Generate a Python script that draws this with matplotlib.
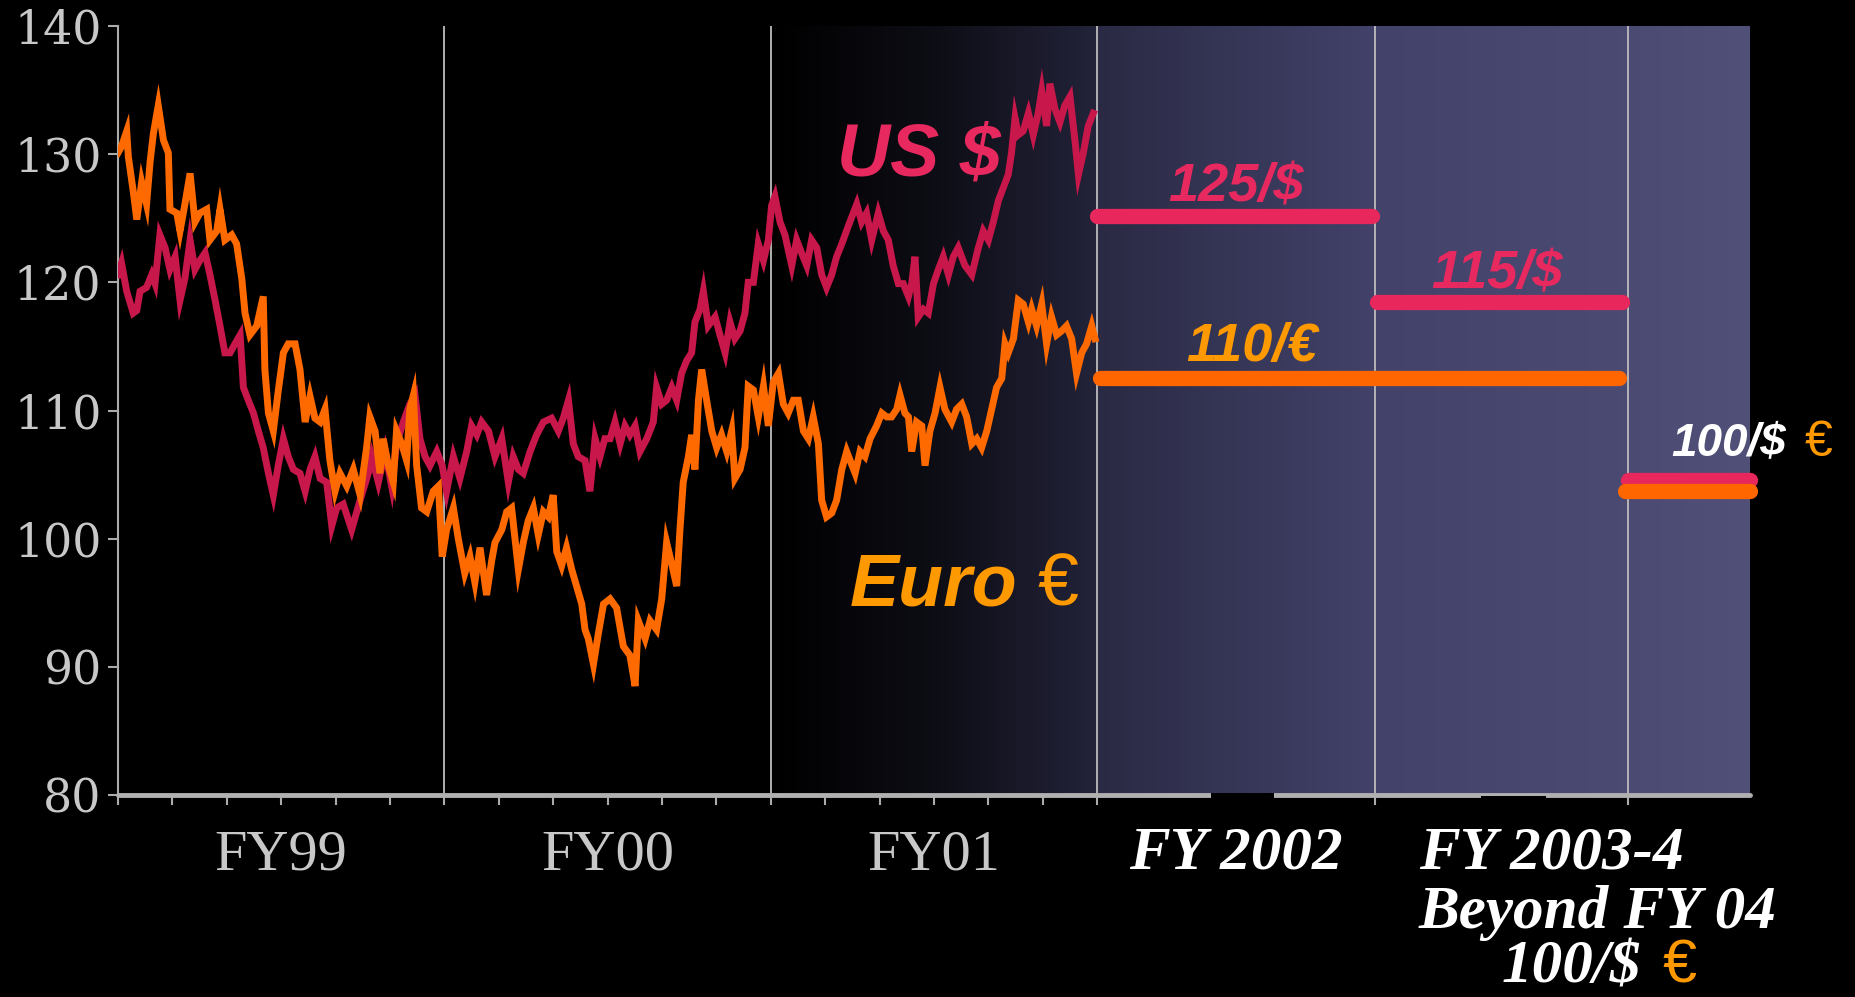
import numpy as np
import matplotlib.pyplot as plt
from matplotlib.colors import LinearSegmentedColormap
from matplotlib.patches import Rectangle

# ============================================================
#  Yen exchange rate vs US $ and Euro, FY99-FY01 history
#  plus planning rates for FY2002 and beyond.
#  x = months from start of FY99, y = yen per unit
# ============================================================

# -----------------------------
#  Data
# -----------------------------
usd_points = [
    (0.0, 120.6), (0.13, 121.5), (0.32, 119.3), (0.56, 117.6), (0.69, 117.8),
    (0.81, 119.3), (1.05, 119.6), (1.24, 120.6), (1.36, 119.9), (1.54, 123.7),
    (1.73, 122.7), (1.91, 121.0), (2.10, 122.0), (2.28, 118.6), (2.46, 120.3),
    (2.65, 123.3), (2.83, 121.0), (3.01, 121.7), (3.20, 122.3), (3.38, 120.6),
    (3.57, 118.6), (3.75, 116.6), (3.93, 114.5), (4.12, 114.5), (4.30, 115.2),
    (4.49, 115.9), (4.61, 111.8), (4.79, 110.8), (4.98, 109.8), (5.16, 108.4),
    (5.34, 107.1), (5.53, 105.1), (5.71, 103.4), (5.89, 105.7), (6.08, 107.8),
    (6.26, 106.4), (6.45, 105.4), (6.69, 105.1), (6.88, 103.7), (7.06, 105.4),
    (7.24, 106.4), (7.43, 104.7), (7.67, 104.4), (7.86, 101.0), (8.04, 102.4),
    (8.28, 102.7), (8.59, 100.7), (8.90, 103.0),
    (9.20, 105.1), (9.33, 106.4), (9.57, 104.4), (9.82, 106.8), (10.06, 104.1),
    (10.24, 107.4), (10.49, 109.1), (10.73, 110.5), (10.92, 111.2), (11.10, 107.8),
    (11.29, 106.4), (11.47, 105.7), (11.72, 106.8), (11.92, 105.7), (12.08, 103.7),
    (12.33, 106.4), (12.57, 104.7), (12.82, 106.8), (13.00, 108.8), (13.19, 108.1),
    (13.37, 109.1), (13.62, 108.4), (13.86, 106.4), (14.11, 107.8), (14.35, 104.4),
    (14.53, 106.4), (14.72, 105.4), (14.90, 105.1), (15.15, 106.8), (15.39, 108.1),
    (15.64, 109.1), (15.94, 109.4), (16.19, 108.4), (16.37, 109.4), (16.56, 110.8),
    (16.74, 107.4), (16.92, 106.4), (17.17, 106.1), (17.35, 103.7), (17.54, 107.8),
    (17.72, 106.4), (17.90, 107.8),
    (18.09, 107.8), (18.27, 109.1), (18.46, 107.4), (18.64, 108.8), (18.82, 108.1),
    (19.01, 108.8), (19.19, 106.8), (19.44, 107.8), (19.68, 109.1), (19.80, 111.8),
    (19.99, 110.5), (20.17, 110.8), (20.36, 111.8), (20.54, 110.8), (20.72, 112.9),
    (20.91, 113.9), (21.09, 114.5), (21.21, 116.9), (21.40, 117.9), (21.52, 119.3),
    (21.70, 116.6), (21.95, 117.3), (22.13, 115.9), (22.32, 114.5), (22.50, 116.9),
    (22.68, 115.6), (22.87, 116.2), (23.05, 117.6), (23.17, 120.0), (23.36, 120.0),
    (23.54, 123.0), (23.73, 121.7), (23.91, 123.3), (24.03, 126.0), (24.15, 126.7),
    (24.34, 124.7), (24.52, 123.7), (24.77, 121.3), (24.95, 123.3), (25.13, 122.3),
    (25.32, 121.3), (25.50, 123.3), (25.69, 122.7), (25.87, 120.6), (26.05, 119.6),
    (26.24, 120.6), (26.42, 122.0), (26.61, 123.0), (26.85, 124.4),
    (27.16, 126.1), (27.34, 124.7), (27.52, 125.4), (27.71, 123.3), (27.95, 125.4),
    (28.14, 124.0), (28.32, 123.3), (28.50, 121.3), (28.69, 119.9), (28.87, 119.9),
    (29.06, 118.9), (29.18, 119.9), (29.30, 122.0), (29.42, 117.3), (29.61, 117.9),
    (29.79, 117.6), (29.98, 119.9), (30.16, 121.0), (30.34, 122.0), (30.53, 120.6),
    (30.71, 122.0), (30.89, 122.7), (31.14, 121.3), (31.39, 120.6), (31.63, 122.7),
    (31.81, 124.0), (32.00, 123.3), (32.18, 124.7), (32.37, 126.4), (32.55, 127.4),
    (32.73, 128.4), (32.85, 130.1), (32.98, 132.8), (33.10, 131.5), (33.28, 131.8),
    (33.47, 133.2), (33.65, 131.5), (33.83, 133.2), (33.96, 134.9), (34.14, 132.2),
    (34.26, 135.5), (34.45, 133.5), (34.63, 132.5), (34.81, 133.8), (35.00, 134.5),
    (35.18, 131.1), (35.31, 128.4), (35.49, 130.1), (35.67, 132.2), (35.86, 133.2),
]

eur_points = [
    (0.0, 130.1), (0.13, 130.6), (0.32, 131.8), (0.38, 129.8), (0.56, 127.1),
    (0.69, 124.9), (0.87, 127.8), (1.05, 126.1), (1.18, 129.4), (1.30, 131.6),
    (1.48, 133.8), (1.67, 131.1), (1.85, 130.1), (1.91, 125.7), (2.16, 125.4),
    (2.28, 124.0), (2.46, 126.1), (2.65, 128.5), (2.83, 124.7), (3.01, 125.4),
    (3.26, 125.7), (3.38, 123.3), (3.63, 124.0), (3.75, 125.7), (3.93, 123.3),
    (4.18, 123.7), (4.36, 123.0), (4.55, 120.3), (4.67, 117.6), (4.85, 115.9),
    (5.10, 116.6), (5.34, 118.9), (5.40, 113.2), (5.53, 109.8), (5.71, 108.4),
    (5.89, 111.5), (6.08, 114.5), (6.26, 115.2), (6.51, 115.2), (6.69, 113.2),
    (6.88, 109.1), (7.06, 111.1), (7.24, 109.4), (7.43, 109.1), (7.61, 110.1),
    (7.79, 106.1), (7.98, 103.7), (8.16, 105.1), (8.41, 104.1), (8.65, 105.4),
    (8.90, 103.4),
    (9.14, 107.1), (9.26, 109.5), (9.45, 108.4), (9.63, 105.1), (9.75, 107.8),
    (9.94, 105.7), (10.12, 104.4), (10.24, 108.4), (10.43, 107.4), (10.61, 106.1),
    (10.73, 110.1), (10.86, 111.2), (10.98, 105.7), (11.16, 102.4), (11.35, 102.1),
    (11.59, 103.7), (11.78, 104.1), (11.92, 98.6), (12.08, 100.7), (12.33, 102.4),
    (12.51, 100.0), (12.75, 97.3), (12.94, 98.6), (13.12, 96.6), (13.31, 99.3),
    (13.55, 95.6), (13.74, 98.3), (13.86, 99.7), (14.11, 100.7), (14.29, 102.1),
    (14.47, 102.4), (14.72, 97.6), (14.90, 99.7), (15.08, 101.4), (15.27, 102.4),
    (15.45, 100.3), (15.64, 102.1), (15.82, 101.7), (16.00, 103.4), (16.13, 99.0),
    (16.31, 97.9), (16.49, 99.3), (16.68, 97.6), (16.86, 96.3), (17.05, 94.9),
    (17.17, 92.9), (17.29, 92.2), (17.48, 90.2), (17.66, 92.6), (17.85, 94.9),
    (18.09, 95.3), (18.33, 94.6), (18.58, 91.6), (18.82, 90.9), (19.01, 88.5),
    (19.13, 93.6), (19.38, 92.2), (19.56, 93.6), (19.80, 92.9), (19.99, 95.3),
    (20.17, 99.7), (20.36, 98.0), (20.54, 96.3), (20.66, 100.7), (20.78, 104.4),
    (20.97, 106.4), (21.09, 108.1), (21.21, 105.4), (21.34, 110.8), (21.46, 113.2),
    (21.64, 110.8), (21.83, 108.4), (22.01, 107.1), (22.19, 108.1), (22.38, 106.8),
    (22.56, 108.4), (22.68, 104.7), (22.87, 105.4), (23.05, 107.1), (23.17, 111.9),
    (23.36, 111.6), (23.54, 109.5), (23.73, 111.9), (23.91, 108.8), (24.09, 112.2),
    (24.28, 112.9), (24.46, 110.5), (24.64, 109.8), (24.83, 110.8), (25.01, 110.8),
    (25.20, 108.4), (25.38, 107.8), (25.56, 109.5), (25.75, 107.4), (25.87, 103.0),
    (26.05, 101.7), (26.24, 102.0), (26.42, 103.0), (26.61, 105.4), (26.79, 106.8),
    (27.10, 105.1), (27.28, 106.8), (27.46, 106.4), (27.65, 107.8), (27.89, 108.8),
    (28.08, 109.8), (28.26, 109.5), (28.44, 109.5), (28.63, 110.1), (28.75, 111.2),
    (28.93, 109.8), (29.06, 109.5), (29.18, 106.8), (29.36, 109.1), (29.55, 108.8),
    (29.67, 105.7), (29.85, 108.4), (30.04, 109.8), (30.22, 111.8), (30.40, 110.1),
    (30.65, 109.1), (30.83, 110.1), (31.02, 110.5), (31.20, 109.5), (31.39, 107.4),
    (31.57, 107.8), (31.75, 107.1), (31.94, 108.4), (32.12, 110.1), (32.30, 111.8),
    (32.49, 112.5), (32.61, 115.2), (32.73, 114.5), (32.92, 115.6), (33.10, 118.6),
    (33.28, 118.3), (33.47, 116.9), (33.59, 117.9), (33.77, 116.6), (33.96, 118.3),
    (34.14, 115.2), (34.32, 117.3), (34.51, 115.9), (34.69, 116.2), (34.87, 116.6),
    (35.06, 115.6), (35.24, 112.9), (35.43, 114.5), (35.61, 115.2), (35.80, 116.6),
    (35.92, 115.6),
]

# planning rates (start, end, level)
usd_plan_start = [36.0, 46.3, 55.5]
usd_plan_end = [46.1, 55.3, 60.0]
usd_plan_level = [125.2, 118.5, 104.6]
eur_plan_start = [36.1, 55.4]
eur_plan_end = [55.2, 60.0]
eur_plan_level = [112.5, 103.7]

period_edges = [12, 24, 36, 46.2, 55.5]
fy_labels = ["FY99", "FY00", "FY01"]
fy_label_pos = [6, 18, 30]
y_ticks = [80, 90, 100, 110, 120, 130, 140]

# -----------------------------
#  Style
# -----------------------------
USD_LINE = "#c8174a"
EUR_LINE = "#ff6a00"
USD_PLAN = "#e8285c"
EUR_PLAN = "#ff6600"
USD_TEXT = "#e8295f"
EUR_TEXT = "#ff9900"
AXIS_GREY = "#ababab"
LABEL_GREY = "#c8c8c8"

SANS = "Liberation Sans"
SERIF = "Liberation Serif"

fig = plt.figure(figsize=(18.56, 9.97), dpi=100, facecolor="black")
ax = fig.add_axes([118 / 1856, 202 / 997, 1632 / 1856, 769 / 997])
ax.set_facecolor("black")

# shaded "recent / future" background
ramp = np.linspace(0, 1, 256).reshape(1, -1)
cm_recent = LinearSegmentedColormap.from_list(
    "recent", ["#000000", "#0d0d15", "#23233a"])
cm_future = LinearSegmentedColormap.from_list(
    "future", [(0, "#2a2a44"), (0.425, "#42426a"), (0.8, "#4a4a72"), (1, "#505078")])
ax.imshow(ramp, cmap=cm_recent, extent=[24, 36, 80, 140], aspect="auto", zorder=0)
ax.imshow(ramp, cmap=cm_future, extent=[36, 60, 80, 140], aspect="auto", zorder=0)

ax.set_xlim(0, 60)
ax.set_ylim(80, 140)

for edge in period_edges:
    ax.axvline(edge, color="#bdbdbd", lw=1.3, zorder=1)

# history
ux, uy = zip(*usd_points)
ex, ey = zip(*eur_points)
ax.plot(ux, uy, color=USD_LINE, lw=5, solid_joinstyle="miter", zorder=3)
ax.plot(ex, ey, color=EUR_LINE, lw=5, solid_joinstyle="miter", zorder=3)

# planning rates
for x0, x1, lvl in zip(usd_plan_start, usd_plan_end, usd_plan_level):
    ax.plot([x0, x1], [lvl, lvl], color=USD_PLAN, lw=11,
            solid_capstyle="round", clip_on=False, zorder=4)
for x0, x1, lvl in zip(eur_plan_start, eur_plan_end, eur_plan_level):
    ax.plot([x0, x1], [lvl, lvl], color=EUR_PLAN, lw=11,
            solid_capstyle="round", clip_on=False, zorder=4)

# axes
for side in ["top", "right"]:
    ax.spines[side].set_visible(False)
ax.spines["left"].set_color(AXIS_GREY)
ax.spines["left"].set_linewidth(1.5)
ax.spines["bottom"].set_color("#b0b0b0")
ax.spines["bottom"].set_linewidth(3.5)
ax.spines["bottom"].set_capstyle("round")

ax.set_yticks(y_ticks)
ax.set_yticklabels([str(v) for v in y_ticks], fontfamily="DejaVu Serif",
                   fontsize=33, color=LABEL_GREY)
ax.tick_params(axis="y", direction="out", length=7, width=1.5,
               color=AXIS_GREY, pad=5)
ax.set_xticks(list(np.arange(0, 37, 2)) + period_edges[3:])
ax.set_xticklabels([])
ax.tick_params(axis="x", direction="out", length=7, width=1.5, color=AXIS_GREY)

# black boxes from the label frames that cut the axis line
ax.add_patch(Rectangle((40.2, 79.45), 2.3, 0.7, facecolor="black",
                       edgecolor="none", clip_on=False, zorder=6))
ax.add_patch(Rectangle((50.1, 79.45), 2.4, 0.5, facecolor="black",
                       edgecolor="none", clip_on=False, zorder=6))

# period labels
for lab, pos in zip(fy_labels, fy_label_pos):
    ax.text(pos, 74.15, lab, ha="center", va="baseline", fontfamily=SERIF,
            fontsize=42, color=LABEL_GREY, clip_on=False)

bold_serif = dict(fontfamily=SERIF, fontweight="bold", fontstyle="italic",
                  fontsize=44, color="white", va="baseline", clip_on=False)
ax.text(41.1, 74.3, "FY 2002", ha="center", **bold_serif)
ax.text(52.7, 74.3, "FY 2003-4", ha="center", **bold_serif)
ax.text(54.4, 69.6, "Beyond FY 04", ha="center", **bold_serif)
ax.text(50.85, 65.4, "100/$", ha="left", **bold_serif)
ax.text(56.8, 65.4, "€", ha="left", va="baseline", fontfamily=SANS,
        fontsize=44, color=EUR_TEXT, clip_on=False)

# series and rate labels
bold_sans = dict(fontfamily=SANS, fontweight="bold", fontstyle="italic",
                 va="baseline", zorder=7, clip_on=False)
ax.text(29.45, 128.36, "US $", ha="center", fontsize=53, color=USD_TEXT, **bold_sans)
ax.text(26.9, 94.8, "Euro", ha="left", fontsize=53, color=EUR_TEXT, **bold_sans)
ax.text(33.8, 94.8, "€", ha="left", va="baseline", fontfamily=SANS,
        fontsize=53, color=EUR_TEXT, zorder=7)
ax.text(41.1, 126.33, "125/$", ha="center", fontsize=39, color=USD_TEXT, **bold_sans)
ax.text(50.7, 119.55, "115/$", ha="center", fontsize=39, color=USD_TEXT, **bold_sans)
ax.text(41.7, 113.85, "110/€", ha="center", fontsize=39, color=EUR_TEXT, **bold_sans)
ax.text(57.1, 106.44, "100/$", ha="left", fontsize=33, color="white", **bold_sans)
ax.text(62.0, 106.44, "€", ha="left", va="baseline", fontfamily=SANS,
        fontsize=36, color=EUR_TEXT, zorder=7, clip_on=False)

fig.savefig("out.png", dpi=100, facecolor="black")
